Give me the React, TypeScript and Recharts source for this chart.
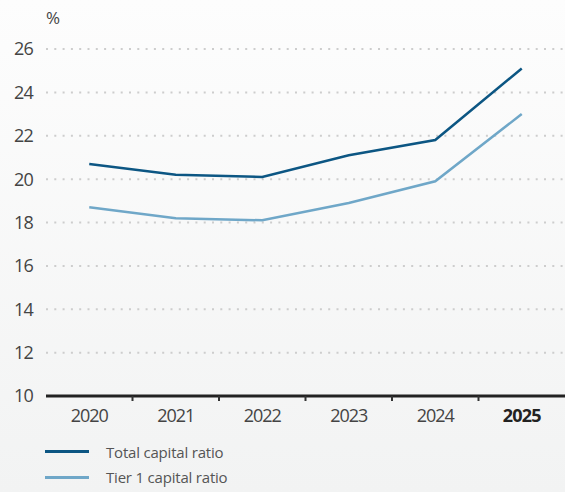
import { LineChart, Line, XAxis, YAxis, CartesianGrid, Legend } from "recharts";

const years = ["2020", "2021", "2022", "2023", "2024", "2025"];
const totalCapital = [20.7, 20.2, 20.1, 21.1, 21.8, 25.1];
const tier1Capital = [18.7, 18.2, 18.1, 18.9, 19.9, 23.0];
const yTicks = [10, 12, 14, 16, 18, 20, 22, 24, 26];

const DARK = "#0c5683";
const LIGHT = "#6fa7c8";
const FONT = "'Open Sans', sans-serif";

const data = years.map((year, i) => ({
  year,
  total: totalCapital[i],
  tier1: tier1Capital[i],
}));

const legendItems = [
  { label: "Total capital ratio", color: DARK },
  { label: "Tier 1 capital ratio", color: LIGHT },
];

function YearTick(props: any) {
  const { x, y, payload } = props;
  const last = payload.index === years.length - 1;
  const half = payload.offset || 43;
  return (
    <g>
      {payload.index > 0 && (
        <line x1={x - half} x2={x - half} y1={y} y2={y + 5} stroke="#333" strokeWidth={2} />
      )}
      <text
        x={x}
        y={y + 26}
        textAnchor="middle"
        fontFamily={FONT}
        fontSize={18}
        fontWeight={last ? 700 : 400}
        fill={last ? "#222" : "#444"}
        letterSpacing={last ? -0.8 : -1.1}
      >
        {payload.value}
      </text>
    </g>
  );
}

function LegendBox() {
  return (
    <div style={{ height: 56, paddingTop: 7, paddingLeft: 45, boxSizing: "border-box" }}>
      {legendItems.map((item) => (
        <div key={item.label} style={{ display: "flex", alignItems: "center", height: 25.5 }}>
          <span style={{ width: 44, height: 3, background: item.color, display: "inline-block" }} />
          <span
            style={{
              marginLeft: 17,
              fontFamily: FONT,
              fontSize: 15,
              color: "#555",
              letterSpacing: -0.2,
            }}
          >
            {item.label}
          </span>
        </div>
      ))}
    </div>
  );
}

export default function App() {
  return (
    <div
      style={{
        position: "absolute",
        left: 0,
        top: 0,
        width: 565,
        height: 492,
        background: "linear-gradient(#fdfdfd, #f2f3f3)",
      }}
    >
      <div
        style={{
          position: "absolute",
          left: 46,
          top: 6,
          fontFamily: FONT,
          fontSize: 17,
          color: "#444",
        }}
      >
        %
      </div>
      <LineChart width={565} height={492} data={data} margin={{ top: 49, right: 0, bottom: 4, left: 0 }}>
        <CartesianGrid
          vertical={false}
          stroke="#cdcdcd"
          strokeWidth={2}
          strokeDasharray="2 6.3"
        />
        <XAxis
          dataKey="year"
          scale="band"
          height={36}
          tickSize={0}
          tickMargin={0}
          axisLine={{ stroke: "#222", strokeWidth: 3 }}
          tickLine={false}
          tick={<YearTick />}
          interval={0}
        />
        <YAxis
          width={46}
          domain={[10, 26]}
          ticks={yTicks}
          axisLine={false}
          tickLine={false}
          tickSize={0}
          tickMargin={13}
          tick={{ fontFamily: FONT, fontSize: 18, fill: "#444", letterSpacing: -0.8 }}
        />
        <Legend verticalAlign="bottom" align="left" content={<LegendBox />} />
        <Line
          dataKey="total"
          stroke={DARK}
          strokeWidth={2.5}
          dot={false}
          isAnimationActive={false}
        />
        <Line
          dataKey="tier1"
          stroke={LIGHT}
          strokeWidth={2.5}
          dot={false}
          isAnimationActive={false}
        />
      </LineChart>
    </div>
  );
}
